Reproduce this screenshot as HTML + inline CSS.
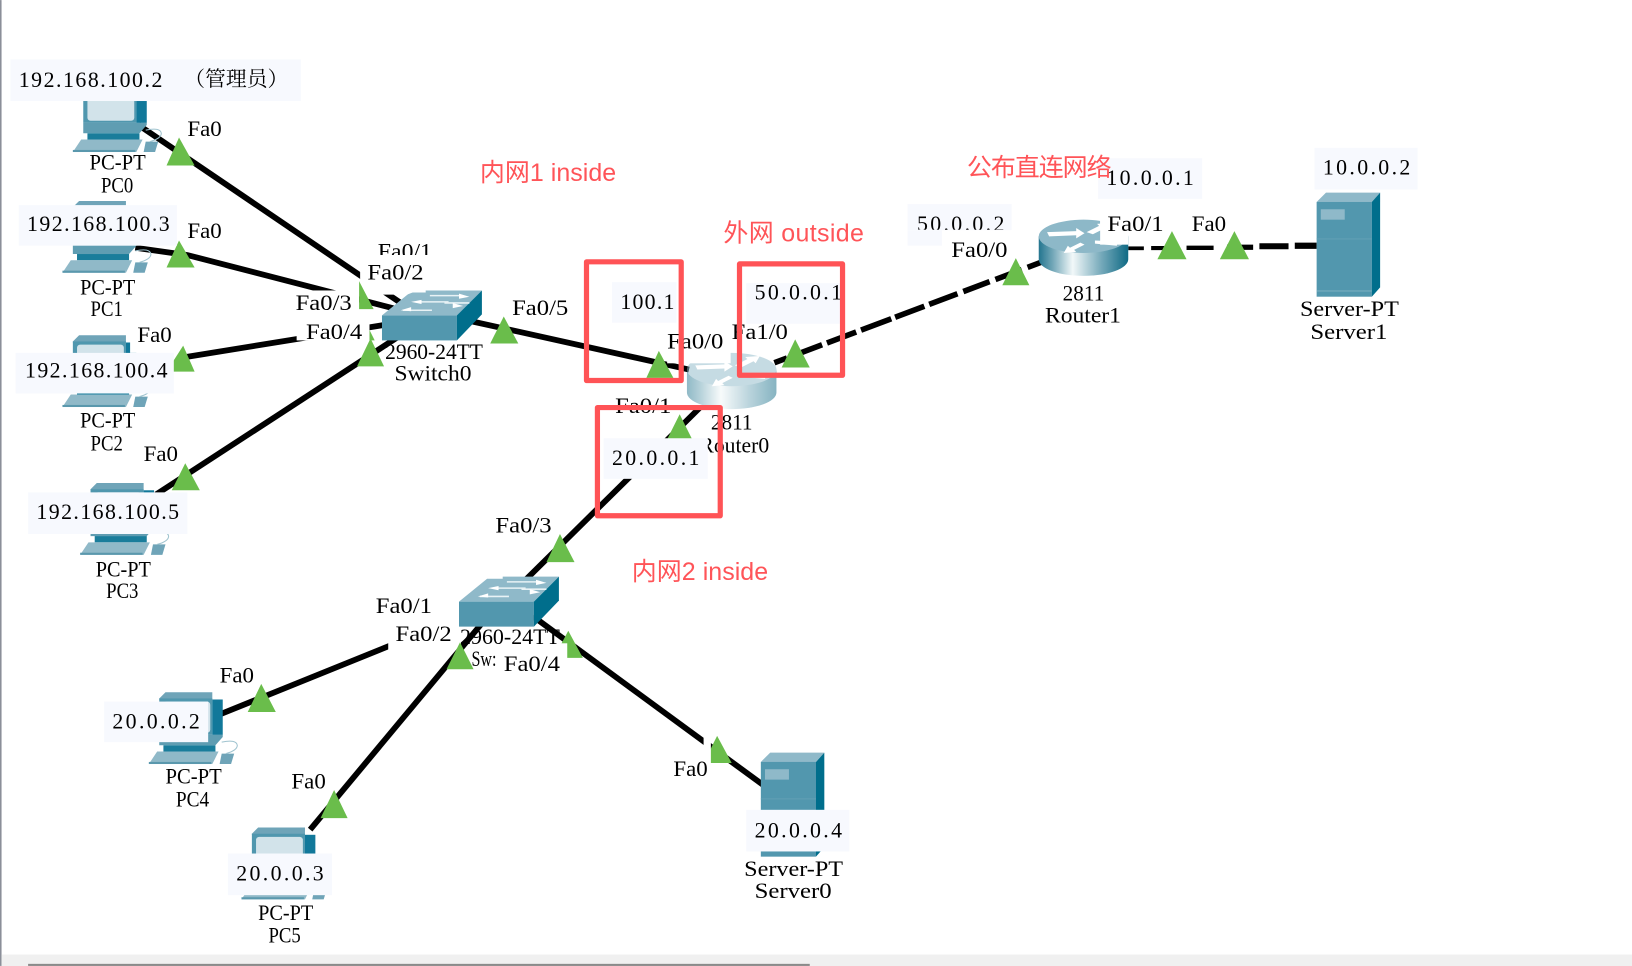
<!DOCTYPE html>
<html><head><meta charset="utf-8"><style>
html,body{margin:0;padding:0;background:#fff;width:1632px;height:966px;overflow:hidden}
svg{display:block}
text{font-family:"Liberation Serif","Noto Serif CJK SC",serif;font-size:21px;fill:#000}
.r{font-family:"Liberation Sans","Noto Sans CJK SC",sans-serif;font-size:24px;fill:#ff5458}
.b{fill:#f7f9fe}.w{fill:#fff}.t{fill:#6abd4b}
.l{stroke:#000;stroke-width:5.6;fill:none}
.x{fill:none;stroke:#ff5356;stroke-width:5;stroke-linejoin:round}
</style></head><body>
<svg width="1632" height="966" viewBox="0 0 1568 928" xmlns="http://www.w3.org/2000/svg">
<defs>
<linearGradient id="g" x1="0" x2="1" y1="0" y2="0"><stop offset="0" stop-color="#23758f"/><stop offset=".15" stop-color="#6fa5b6"/><stop offset=".38" stop-color="#f2f8f9"/><stop offset=".7" stop-color="#75a9ba"/><stop offset="1" stop-color="#0f6a85"/></linearGradient>
<symbol id="pc" overflow="visible" width="1" height="1">
<polygon points="0,6 6,0 51,0 51,7 0,7" fill="#6fa4b8"/>
<rect x="0" y="6" width="51" height="35" fill="#5097ae"/>
<rect x="51" y="7" width="10" height="34" fill="#11789a"/>
<rect x="4" y="9" width="45" height="30" rx="3" fill="#d2e3ea"/>
<polygon points="0,41 61,41 61,43 54,51 0,51" fill="#5f9db2"/>
<rect x="4" y="51" width="50" height="6" fill="#1a7d9b"/>
<polygon points="-10,69 -2,57 57,57 51,69" fill="#90b9c8"/>
<rect x="-10" y="67" width="60" height="2" fill="#5a98ad"/>
<polygon points="58,69 60,59 72,59 69,69" fill="#6fa4b8"/>
<path d="M60,48q14,-3 15,3q0,5 -11,8" fill="none" stroke="#9fc3cf" stroke-width="1"/>
</symbol>
<symbol id="srv" overflow="visible" width="1" height="1">
<polygon points="0,9 9,0 61,0 53,9" fill="#8fb9c9"/>
<rect x="0" y="9" width="53" height="91" fill="#5297ae"/>
<polygon points="53,9 61,0 61,91 53,100" fill="#006e8c"/>
<rect x="4" y="16" width="23" height="10" fill="#8fb9c9"/>
<rect x="0" y="44" width="53" height="1" fill="#62a0b5"/>
<rect x="0" y="94" width="53" height="1" fill="#7bb0c1"/>
</symbol>
<symbol id="sw" overflow="visible" width="1" height="1">
<polygon points="0,24 27,2 42,2 42,0 96,0 72,24" fill="#8fb9c9"/>
<rect x="0" y="24" width="72" height="24" fill="#5297ae"/>
<polygon points="72,24 96,0 96,23 72,48" fill="#006e8c"/>
<path d="M20,19h28M34,11h30M46,5h28M60,12h24" stroke="#e8f2f5" stroke-width="1.5"/>
<polygon points="18,19 28,16 28,20" fill="#fff"/><polygon points="38,11 28,9 28,13" fill="#fff" transform="rotate(180 33 11)"/>
<polygon points="84,6 74,3 74,8" fill="#fff"/><polygon points="78,15 68,12 68,17" fill="#fff"/>
</symbol>
<symbol id="rt" overflow="visible" width="1" height="1">
<path d="M0,16V38A43,16 0 0 0 86,38V16Z" fill="url(#g)"/>
<ellipse cx="43" cy="16" rx="43" ry="16" fill="#8db8c8"/>
<path d="M8,12l28,-1v-3l8,5l-8,5v-3l-26,1zM46,12l12,-6l-2,-2l14,-1l-4,7l-2,-2l-12,6zM44,24l-10,5l2,2l-12,1l4,-7l2,2l10,-5zM54,20l22,1l-1,4l-21,-2z" fill="#fff"/>
</symbol>
</defs>

<rect x="0" y="0" width="1.5" height="928" fill="#8b8f99"/>
<rect x="1.5" y="917" width="1567" height="11" fill="#f0f0f0"/>
<rect x="27" y="926" width="751" height="2" fill="#8a8a8a"/>

<!-- links -->
<path class="l" d="M133,120L385,291"/>
<path class="l" d="M130,238L180,245L385,298"/>
<path class="l" d="M172,344L370,312"/>
<path class="l" d="M150,475L385,322"/>
<path class="l" d="M450,308L500,319L662,355"/>
<path class="l" d="M744,348.5L1000,252" style="stroke-width:5.4;stroke-dasharray:13 15 21 5 30 5 31 4 30 5 29 6 27 6 27 6 40"/>
<path class="l" d="M1084,238.5H1099" style="stroke-width:3.6"/>
<path class="l" d="M1106,238.3H1127" style="stroke-width:4"/>
<path class="l" d="M1140,238H1166" style="stroke-width:4.2"/>
<path class="l" d="M1179,237.5H1204" style="stroke-width:5"/>
<path class="l" d="M1210,236.5H1238" style="stroke-width:5.8"/>
<path class="l" d="M1244,236H1265" style="stroke-width:6"/>
<path class="l" d="M672,392L505,557"/>
<path class="l" d="M212,686L462,585"/>
<path class="l" d="M298,797L472,588"/>
<path class="l" d="M512,592L733,754"/>

<!-- devices -->
<use href="#pc" x="80" y="77"/>
<use href="#pc" x="70" y="193"/>
<use href="#pc" x="70" y="322"/>
<rect class="w" x="125" y="312" width="42" height="27"/>
<use href="#pc" x="87" y="464"/>
<use href="#pc" x="153" y="665"/>
<use href="#pc" x="242" y="795"/>
<use href="#srv" x="731" y="723"/>
<use href="#srv" x="1265" y="185"/>
<use href="#sw" x="367" y="279"/>
<use href="#sw" x="441" y="554"/>
<use href="#rt" x="660" y="339" opacity=".5"/>
<rect class="w" x="641" y="315" width="61" height="34"/>
<use href="#rt" x="998" y="211"/>

<!-- triangles -->
<polygon class="t" points="172,132 187,159 160,159"/>
<polygon class="t" points="172,231 187,257 160,257"/>
<polygon class="t" points="176,332 187,357 160,357"/>
<polygon class="t" points="178,445 192,471 165,471"/>
<polygon class="t" points="356,325 369,352 343,352"/>
<polygon class="t" points="355,317 360,327 355,327"/>
<polygon class="t" points="484,304 498,330 471,330"/>
<polygon class="t" points="633,337 647,363 621,363"/>
<polygon class="t" points="764,326 778,353 751,353"/>
<polygon class="t" points="976,248 989,274 963,274"/>
<polygon class="t" points="1126,222 1140,249 1112,249"/>
<polygon class="t" points="1186,222 1200,249 1172,249"/>
<polygon class="t" points="653,398 666,424 640,424"/>
<polygon class="t" points="538,513 552,540 525,540"/>
<polygon class="t" points="442,617 455,643 429,643"/>
<polygon class="t" points="546,606 560,632 532,632"/>
<polygon class="t" points="689,707 703,733 676,733"/>
<polygon class="t" points="251,657 265,684 238,684"/>
<polygon class="t" points="321,759 334,786 308,786"/>

<!-- Fa0/1 clipped label under white boxes -->
<g transform="translate(0,-0.7)"><text x="363" y="249" textLength="52" lengthAdjust="spacingAndGlyphs">Fa0/1</text></g>

<!-- white label masks -->
<polygon class="w" points="346,245 415,245 415,274 391,283 346,283"/>
<rect class="w" x="285" y="279" width="60" height="27"/>
<rect class="w" x="335" y="268" width="10" height="12"/>
<rect class="w" x="285" y="306" width="70" height="21"/>
<polygon class="t" points="345,270 359,297 345,297"/>
<rect class="w" x="361" y="573" width="80" height="27"/>
<rect class="w" x="373" y="597" width="64" height="27"/>
<rect class="w" x="482" y="618" width="63" height="33"/>
<rect class="w" x="477" y="619" width="7" height="24"/>
<rect class="w" x="905" y="221" width="67" height="27"/>
<rect class="w" x="1057" y="191" width="65" height="30"/>
<rect class="w" x="1057" y="205" width="27" height="30"/>
<rect class="w" x="676" y="707" width="7" height="27"/>

<!-- IP boxes -->
<rect class="b" x="10" y="57" width="279" height="40"/>
<rect class="b" x="18" y="197" width="152" height="39"/>
<rect class="b" x="15" y="339" width="152" height="39"/>
<rect class="b" x="27" y="473" width="153" height="40"/>
<rect class="b" x="588" y="271" width="62" height="39"/>
<rect class="b" x="717" y="272" width="91" height="39"/>
<rect class="b" x="580" y="421" width="100" height="39"/>
<rect class="b" x="872" y="196" width="100" height="25"/>
<rect class="b" x="872" y="221" width="33" height="15"/>
<rect class="b" x="1055" y="152" width="100" height="39"/>
<rect class="b" x="1263" y="142" width="99" height="40"/>
<rect class="b" x="100" y="674" width="100" height="39"/>
<rect class="b" x="219" y="820" width="100" height="40"/>
<rect class="b" x="717" y="778" width="99" height="40"/>

<g transform="translate(0,-0.3)">
<!-- IP text -->
<text x="18" y="84" textLength="138">192.168.100.2</text>
<text x="177" y="83" textLength="100" style="font-family:'Noto Serif CJK SC',serif;font-size:20px">（管理员）</text>
<text x="26" y="222" textLength="137">192.168.100.3</text>
<text x="24" y="363" textLength="137">192.168.100.4</text>
<text x="35" y="499" textLength="137">192.168.100.5</text>
<text x="596" y="297" textLength="52">100.1</text>
<text x="725" y="288" textLength="84">50.0.0.1</text>
<text x="588" y="447" textLength="84">20.0.0.1</text>
<svg x="872" y="196" width="100" height="25" viewBox="872 196 100 25"><text x="881" y="222" textLength="84">50.0.0.2</text></svg>
<text x="1063" y="178" textLength="84">10.0.0.1</text>
<text x="1271" y="168" textLength="84">10.0.0.2</text>
<text x="108" y="700" textLength="84">20.0.0.2</text>
<text x="227" y="846" textLength="84">20.0.0.3</text>
<text x="725" y="805" textLength="84">20.0.0.4</text>

<!-- port labels -->
<text x="180" y="131" textLength="33" lengthAdjust="spacingAndGlyphs">Fa0</text>
<text x="180" y="229" textLength="33" lengthAdjust="spacingAndGlyphs">Fa0</text>
<text x="132" y="329" textLength="33" lengthAdjust="spacingAndGlyphs">Fa0</text>
<text x="138" y="443" textLength="33" lengthAdjust="spacingAndGlyphs">Fa0</text>
<text x="353" y="269" textLength="54" lengthAdjust="spacingAndGlyphs">Fa0/2</text>
<text x="284" y="298" textLength="54" lengthAdjust="spacingAndGlyphs">Fa0/3</text>
<text x="294" y="326" textLength="54" lengthAdjust="spacingAndGlyphs">Fa0/4</text>
<text x="492" y="303" textLength="54" lengthAdjust="spacingAndGlyphs">Fa0/5</text>
<text x="641" y="335" textLength="54" lengthAdjust="spacingAndGlyphs">Fa0/0</text>
<text x="703" y="326" textLength="54" lengthAdjust="spacingAndGlyphs">Fa1/0</text>
<text x="591" y="397" textLength="54" lengthAdjust="spacingAndGlyphs">Fa0/1</text>
<text x="476" y="512" textLength="54" lengthAdjust="spacingAndGlyphs">Fa0/3</text>
<text x="361" y="589" textLength="54" lengthAdjust="spacingAndGlyphs">Fa0/1</text>
<text x="380" y="616" textLength="54" lengthAdjust="spacingAndGlyphs">Fa0/2</text>
<text x="484" y="645" textLength="54" lengthAdjust="spacingAndGlyphs">Fa0/4</text>
<text x="211" y="656" textLength="33" lengthAdjust="spacingAndGlyphs">Fa0</text>
<text x="280" y="758" textLength="33" lengthAdjust="spacingAndGlyphs">Fa0</text>
<text x="647" y="746" textLength="33" lengthAdjust="spacingAndGlyphs">Fa0</text>
<text x="914" y="247" textLength="54" lengthAdjust="spacingAndGlyphs">Fa0/0</text>
<text x="1064" y="222" textLength="54" lengthAdjust="spacingAndGlyphs">Fa0/1</text>
<text x="1145" y="222" textLength="33" lengthAdjust="spacingAndGlyphs">Fa0</text>

<!-- device names -->
<text x="86" y="163" textLength="54" lengthAdjust="spacingAndGlyphs">PC-PT</text>
<text x="97" y="185" textLength="31" lengthAdjust="spacingAndGlyphs">PC0</text>
<text x="77" y="283" textLength="53" lengthAdjust="spacingAndGlyphs">PC-PT</text>
<text x="87" y="304" textLength="31" lengthAdjust="spacingAndGlyphs">PC1</text>
<text x="77" y="411" textLength="53" lengthAdjust="spacingAndGlyphs">PC-PT</text>
<text x="87" y="433" textLength="31" lengthAdjust="spacingAndGlyphs">PC2</text>
<text x="92" y="554" textLength="53" lengthAdjust="spacingAndGlyphs">PC-PT</text>
<text x="102" y="575" textLength="31" lengthAdjust="spacingAndGlyphs">PC3</text>
<text x="159" y="753" textLength="54" lengthAdjust="spacingAndGlyphs">PC-PT</text>
<text x="169" y="775" textLength="32" lengthAdjust="spacingAndGlyphs">PC4</text>
<text x="248" y="884" textLength="53" lengthAdjust="spacingAndGlyphs">PC-PT</text>
<text x="258" y="906" textLength="31" lengthAdjust="spacingAndGlyphs">PC5</text>
<text x="370" y="345" textLength="94" lengthAdjust="spacingAndGlyphs">2960-24TT</text>
<text x="379" y="366" textLength="74" lengthAdjust="spacingAndGlyphs">Switch0</text>
<text x="442" y="619" textLength="96" lengthAdjust="spacingAndGlyphs">2960-24TT</text>
<text x="453" y="640" textLength="24" lengthAdjust="spacingAndGlyphs">Sw:</text>
<text x="683" y="413" textLength="40" lengthAdjust="spacingAndGlyphs">2811</text>
<svg x="680" y="415" width="70" height="30" viewBox="680 415 70 30"><text x="672" y="435" textLength="67" lengthAdjust="spacingAndGlyphs">Router0</text></svg>
<text x="1021" y="289" textLength="40" lengthAdjust="spacingAndGlyphs">2811</text>
<text x="1004" y="310" textLength="73" lengthAdjust="spacingAndGlyphs">Router1</text>
<text x="1249" y="304" textLength="95" lengthAdjust="spacingAndGlyphs">Server-PT</text>
<text x="1259" y="326" textLength="74" lengthAdjust="spacingAndGlyphs">Server1</text>
<text x="715" y="842" textLength="95" lengthAdjust="spacingAndGlyphs">Server-PT</text>
<text x="725" y="863" textLength="74" lengthAdjust="spacingAndGlyphs">Server0</text>
</g>

<!-- annotations -->
<rect class="x" x="563.5" y="251.5" width="91" height="114"/>
<rect class="x" x="710.5" y="253.5" width="99" height="107"/>
<rect class="x" x="574" y="391.5" width="118" height="104"/>
<text class="r" x="461" y="174" textLength="131">内网1 inside</text>
<text class="r" x="695" y="232" textLength="135">外网 outside</text>
<text class="r" x="929" y="169" textLength="139">公布直连网络</text>
<text class="r" x="607" y="557" textLength="131">内网2 inside</text>
</svg>
</body></html>
